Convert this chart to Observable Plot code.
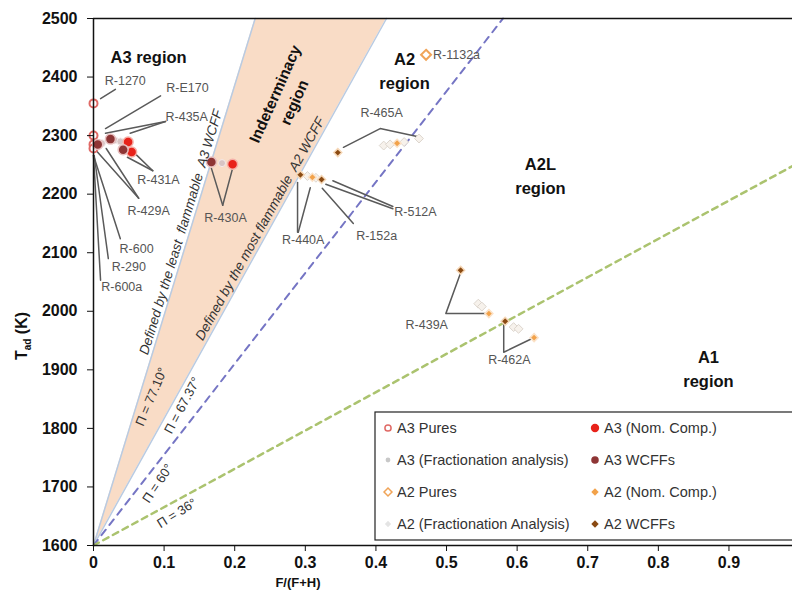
<!DOCTYPE html>
<html>
<head>
<meta charset="utf-8">
<script src="https://cdn.jsdelivr.net/npm/d3@7"></script>
<script src="https://cdn.jsdelivr.net/npm/@observablehq/plot@0.6"></script>
<style>
  html, body { margin: 0; padding: 0; background: #fff; }
  #chart { width: 792px; height: 601px; }
  svg { font-family: "Liberation Sans", Arial, sans-serif; }
</style>
</head>
<body>
<div id="chart"></div>
<script>
// ---------- data ----------
const xTicks = [0, 0.1, 0.2, 0.3, 0.4, 0.5, 0.6, 0.7, 0.8, 0.9];
const yTicks = [1600, 1700, 1800, 1900, 2000, 2100, 2200, 2300, 2400, 2500];

// A3 series
const a3PureX = [0, 0, 0, 0];
const a3PureT = [2355, 2300, 2285, 2278];
const a3NomX = [0.049, 0.054, 0.197];
const a3NomT = [2289, 2272, 2251];
const a3WcffX = [0.006, 0.024, 0.042, 0.167];
const a3WcffT = [2285, 2294, 2276, 2255];
const a3FracX = [0.012, 0.030, 0.038, 0.047, 0.182];
const a3FracT = [2287, 2292, 2290, 2274, 2253];

// A2 series
const a2PureX = [0.471];
const a2PureT = [2438];
const a2NomX = [0.310, 0.430, 0.560, 0.624];
const a2NomT = [2229, 2287, 1996, 1955];
const a2WcffX = [0.293, 0.323, 0.346, 0.520, 0.583];
const a2WcffT = [2233, 2225, 2271, 2070, 1983];
const a2FracX = [0.303, 0.315, 0.411, 0.420, 0.440, 0.461, 0.545, 0.550, 0.595, 0.602];
const a2FracT = [2231, 2228, 2283, 2285, 2289, 2295, 2013, 2008, 1973, 1970];

// Boundary lines (from origin 0,1600 to end point)
const wedgeTop = [{T: 1600, x1: 0, x2: 0}, {T: 2500, x1: 0.229, x2: 0.415}];
const dashNames = ["60", "36"];
const dashEndX = [0.58, 0.99];
const dashEndT = [2500, 2248];

// Refrigerant labels
const labelNames = ["R-1270", "R-E170", "R-435A", "R-431A", "R-429A", "R-600", "R-290", "R-600a",
  "R-430A", "R-465A", "R-512A", "R-152a", "R-440A", "R-439A", "R-462A"];
const labelX = [0.045, 0.133, 0.132, 0.092, 0.078, 0.061, 0.050, 0.040,
  0.187, 0.408, 0.456, 0.401, 0.297, 0.472, 0.589];
const labelT = [2394, 2382, 2331, 2225, 2172, 2107, 2075, 2041,
  2160, 2338, 2169, 2129, 2121, 1976, 1916];

// Leader lines: list of polylines [[x, T], ...]
const leaders = [
  [[0.010, 2363], [0.031, 2379]],
  [[0.017, 2312], [0.095, 2368]],
  [[0.017, 2304], [0.102, 2324]],
  [[0.052, 2304], [0.102, 2324]],
  [[0.048, 2263], [0.084, 2240]],
  [[0.060, 2268], [0.084, 2240]],
  [[0.004, 2274], [0.064, 2193]],
  [[0.018, 2278], [0.064, 2193]],
  [[0.000, 2266], [0.038, 2124]],
  [[0.001, 2266], [0.021, 2090]],
  [[0.000, 2266], [0.010, 2053]],
  [[0.167, 2244], [0.183, 2181]],
  [[0.197, 2244], [0.183, 2181]],
  [[0.354, 2280], [0.406, 2312], [0.460, 2298]],
  [[0.339, 2223], [0.424, 2179]],
  [[0.329, 2217], [0.424, 2175]],
  [[0.324, 2210], [0.368, 2150]],
  [[0.289, 2220], [0.289, 2135]],
  [[0.307, 2211], [0.290, 2135]],
  [[0.520, 2066], [0.499, 1996], [0.558, 1996]],
  [[0.581, 1981], [0.581, 1930], [0.622, 1954]]
];

// Region labels
const regionNames = ["A3 region", "A2\nregion", "A2L\nregion", "A1\nregion"];
const regionX = [0.078, 0.4405, 0.633, 0.871];
const regionT = [2437, 2413, 2234, 1904];

// Rotated annotation texts
const angleTexts = ["Π = 77.10°", "Π = 67.37°", "Π = 60°", "Π = 36°"];
const angleX = [0.082, 0.126, 0.091, 0.118];
const angleT = [1854, 1839, 1706, 1655];
const angleRot = [-67, -62, -56, -32];

const definedTexts = ["Defined by the least  flammable  A3 WCFF", "Defined by the most flammable  A2 WCFF"];
const definedX = [0.124, 0.236];
const definedT = [2135, 2141];
const definedRot = [-73, -61];

const legendNames = ["A3 Pures", "A3 (Nom. Comp.)", "A3 (Fractionation analysis)", "A3 WCFFs",
  "A2 Pures", "A2 (Nom. Comp.)", "A2 (Fractionation Analysis)", "A2 WCFFs"];

// ---------- build tables ----------
const pts = (xs, ts) => xs.map((x, i) => ({x, T: ts[i]}));
const a3Pure = pts(a3PureX, a3PureT), a3Nom = pts(a3NomX, a3NomT);
const a3Wcff = pts(a3WcffX, a3WcffT), a3Frac = pts(a3FracX, a3FracT);
const a2Pure = pts(a2PureX, a2PureT), a2Nom = pts(a2NomX, a2NomT);
const a2Wcff = pts(a2WcffX, a2WcffT), a2Frac = pts(a2FracX, a2FracT);
const dashLines = dashNames.flatMap((n, i) => [{id: n, x: 0, T: 1600}, {id: n, x: dashEndX[i], T: dashEndT[i]}]);
const leaderRows = leaders.flatMap((pl, i) => pl.map(([x, T]) => ({id: i, x, T})));
const labels = labelNames.map((n, i) => ({n, x: labelX[i], T: labelT[i]}));
const regions = regionNames.map((n, i) => ({n, x: regionX[i], T: regionT[i]}));
const angles = angleTexts.map((n, i) => ({n, x: angleX[i], T: angleT[i], r: angleRot[i]}));
const defined = definedTexts.map((n, i) => ({n, x: definedX[i], T: definedT[i], r: definedRot[i]}));

const C = {
  a3Pure: "#e06a66", a3Nom: "#e8221a", a3Wcff: "#8e3535", a3Frac: "#d8c4c4",
  a2Pure: "#f0a458", a2Nom: "#f2a24a", a2Wcff: "#8a4a12", a2Frac: "#dcdcdc"
};
const font = "Liberation Sans, Arial, sans-serif";

const plot = Plot.plot({
  width: 792,
  height: 601,
  marginLeft: 93,
  marginRight: 0,
  marginTop: 18,
  marginBottom: 56,
  style: {fontFamily: font, fontSize: "14px", background: "#fff", overflow: "visible"},
  x: {domain: [0, 0.99]},
  y: {domain: [1600, 2500]},
  marks: [
    Plot.areaX(wedgeTop, {y: "T", x1: "x1", x2: "x2", fill: "#f9dcc6"}),
    Plot.line(wedgeTop, {x: "x1", y: "T", stroke: "#b9cbe2", strokeWidth: 1.5}),
    Plot.line(wedgeTop, {x: "x2", y: "T", stroke: "#b9cbe2", strokeWidth: 1.5}),
    Plot.line(dashLines.filter(d => d.id === "60"), {x: "x", y: "T", stroke: "#7575c4", strokeWidth: 2, strokeDasharray: "7,6"}),
    Plot.line(dashLines.filter(d => d.id === "36"), {x: "x", y: "T", stroke: "#abc36f", strokeWidth: 2.5, strokeDasharray: "6,5"}),
    Plot.line(leaderRows, {x: "x", y: "T", z: "id", stroke: "#5a5a5a", strokeWidth: 1.5}),
    // points
    Plot.dot(a3Frac, {x: "x", y: "T", r: 3.5, fill: C.a3Frac, stroke: "#f4eaea", strokeWidth: 1}),
    Plot.dot(a2Frac, {x: "x", y: "T", symbol: "diamond2", r: 4, fill: "#f7f2ec", stroke: "#ddd6ce", strokeWidth: 1}),
    Plot.dot(a3Pure, {x: "x", y: "T", r: 4, fill: "#fff", stroke: C.a3Pure, strokeWidth: 2}),
    Plot.dot(a3Nom, {x: "x", y: "T", r: 5, fill: C.a3Nom, stroke: "#f6b0a8", strokeWidth: 1.5}),
    Plot.dot(a3Wcff, {x: "x", y: "T", r: 5, fill: C.a3Wcff, stroke: "#e8c0c0", strokeWidth: 1.5}),
    Plot.dot(a2Pure, {x: "x", y: "T", symbol: "diamond2", r: 4.5, fill: "#fff", stroke: C.a2Pure, strokeWidth: 2}),
    Plot.dot(a2Nom, {x: "x", y: "T", symbol: "diamond2", r: 3.6, fill: C.a2Nom, stroke: "#fbe2c8", strokeWidth: 1.5}),
    Plot.dot(a2Wcff, {x: "x", y: "T", symbol: "diamond2", r: 3.6, fill: C.a2Wcff, stroke: "#f6d8b8", strokeWidth: 1.5}),
    // texts
    Plot.text(labels, {x: "x", y: "T", text: "n", fontSize: 12.5, fill: "#555", fontFamily: font}),
    Plot.text(a2Pure, {x: "x", y: "T", text: () => "R-1132a", dx: 7, textAnchor: "start", fontSize: 12.5, fill: "#555", fontFamily: font}),
    Plot.text(regions, {x: "x", y: "T", text: "n", fontSize: 16.5, fontWeight: "bold", fill: "#111", lineHeight: 1.45, fontFamily: font}),
    Plot.text([{n: "Indeterminacy\nregion", x: 0.269, T: 2365}], {x: "x", y: "T", text: "n", rotate: -66, fontSize: 15.5, fontWeight: "bold", fill: "#111", lineHeight: 1.35, fontFamily: font}),
    Plot.text(angles, {x: "x", y: "T", text: "n", rotate: "r", fontSize: 13, fill: "#333", fontFamily: font}),
    Plot.text(defined, {x: "x", y: "T", text: "n", rotate: "r", fontSize: 13.5, fontStyle: "italic", fill: "#333", fontFamily: font}),
    // axes and frame
    Plot.ruleY([2500], {stroke: "#111", strokeWidth: 1.5}),
    Plot.ruleY([1600], {stroke: "#111", strokeWidth: 1.5}),
    Plot.ruleX([0], {stroke: "#111", strokeWidth: 1.5}),
    Plot.axisX({ticks: xTicks, tickSize: 6, tickPadding: 5, tickFormat: d => d === 0 ? "0" : d3.format(".1f")(d), label: null, fontWeight: "bold", fontSize: 16, stroke: "#111", fill: "#111"}),
    Plot.axisY({ticks: yTicks, tickSize: 6, tickPadding: 10, tickFormat: d => String(d), label: null, fontWeight: "bold", fontSize: 16, stroke: "#111", fill: "#111"})
  ]
});

document.getElementById("chart").appendChild(plot);

// ---------- axis titles and legend ----------
const svg = d3.select(plot);
svg.append("text")
  .attr("x", 298).attr("y", 587)
  .attr("text-anchor", "middle")
  .attr("font-family", font).attr("font-size", 13).attr("font-weight", "bold").attr("fill", "#111")
  .text("F/(F+H)");

const yl = svg.append("text")
  .attr("transform", "translate(27,336) rotate(-90)")
  .attr("text-anchor", "middle")
  .attr("font-family", font).attr("font-size", 16).attr("font-weight", "bold").attr("fill", "#111");
yl.append("tspan").text("T");
yl.append("tspan").attr("font-size", 10).attr("dy", 4).text("ad");
yl.append("tspan").attr("dy", -4).text(" (K)");

const lg = svg.append("g");
lg.append("rect").attr("x", 375).attr("y", 412).attr("width", 420).attr("height", 128)
  .attr("fill", "#fff").attr("stroke", "#222").attr("stroke-width", 1.2);
const legendStyle = [
  {sym: d3.symbolCircle, size: 30, fill: "#fff", stroke: C.a3Pure, sw: 1.5},
  {sym: d3.symbolCircle, size: 55, fill: C.a3Nom, stroke: "none", sw: 0},
  {sym: d3.symbolCircle, size: 18, fill: "#c8c8c8", stroke: "none", sw: 0},
  {sym: d3.symbolCircle, size: 45, fill: C.a3Wcff, stroke: "none", sw: 0},
  {sym: d3.symbolDiamond2, size: 40, fill: "#fff", stroke: C.a2Pure, sw: 1.5},
  {sym: d3.symbolDiamond2, size: 35, fill: C.a2Nom, stroke: "none", sw: 0},
  {sym: d3.symbolDiamond2, size: 25, fill: "#e4e4e4", stroke: "none", sw: 0},
  {sym: d3.symbolDiamond2, size: 35, fill: C.a2Wcff, stroke: "none", sw: 0}
];
legendNames.forEach((name, i) => {
  const col = i % 2, row = Math.floor(i / 2);
  const mx = col === 0 ? 388 : 595;
  const my = 428 + row * 32;
  const st = legendStyle[i];
  lg.append("path")
    .attr("d", d3.symbol(st.sym, st.size)())
    .attr("transform", `translate(${mx},${my})`)
    .attr("fill", st.fill).attr("stroke", st.stroke).attr("stroke-width", st.sw);
  lg.append("text")
    .attr("x", mx + 9).attr("y", my + 5)
    .attr("text-anchor", "start")
    .attr("font-family", font).attr("font-size", 14.5).attr("fill", "#333")
    .text(name);
});
</script>
</body>
</html>
